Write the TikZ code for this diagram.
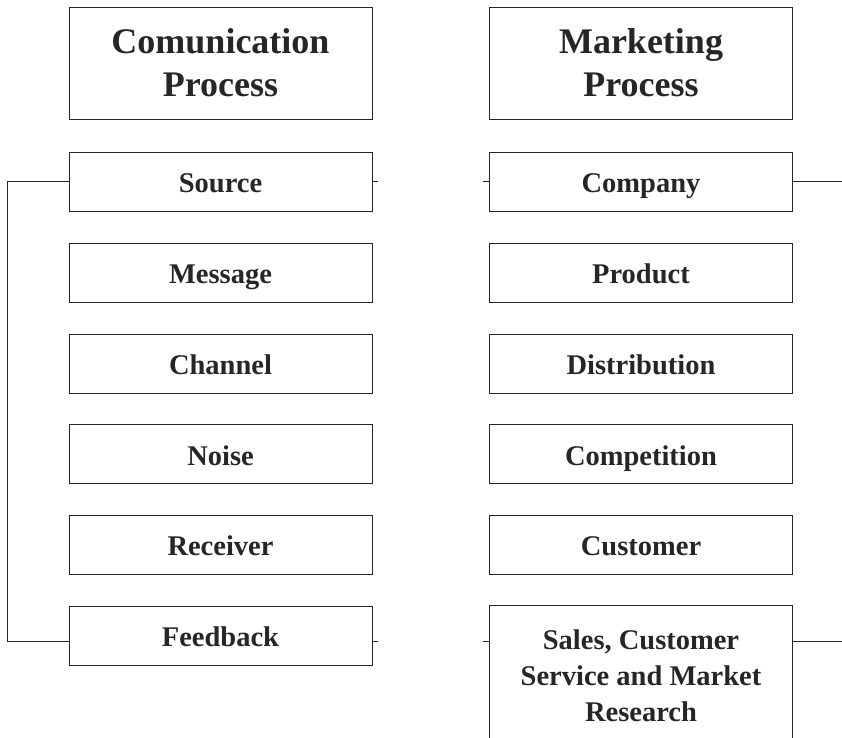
\documentclass[tikz,border=0pt]{standalone}
\usepackage{fontspec}
\setmainfont{Liberation Serif}

\begin{document}
\begin{tikzpicture}[
  x = 1pt,
  y = -1pt,
  head/.style = {
    shape = rectangle,
    draw,
    minimum width = 303pt,
    minimum height = 112pt,
    inner sep = 0pt,
    align = center,
    font = \fontsize{36}{43}\selectfont\bfseries,
  },
  stage/.style = {
    shape = rectangle,
    draw,
    minimum width = 303pt,
    minimum height = 59pt,
    inner sep = 0pt,
    text height = 26pt,
    text depth = 4pt,
    font = \fontsize{28.5}{36}\selectfont\bfseries,
  },
  bigstage/.style = {
    shape = rectangle,
    draw,
    minimum width = 303pt,
    minimum height = 142pt,
    inner sep = 0pt,
    align = center,
    font = \fontsize{28.5}{36}\selectfont\bfseries,
  },
  every path/.style = {
    line width = 0.8pt,
    color = black!85
  }
]
  \useasboundingbox (0, 0) rectangle (842, 737);

  \draw node[head] (comm) at (220.5, 63) {Comunication\\Process};
  \draw node[head] (mark) at (641, 63) {Marketing\\Process};

  \draw node[stage] (source)   at (220.5, 181.5) {Source};
  \draw node[stage] (message)  at (220.5, 272.5) {Message};
  \draw node[stage] (channel)  at (220.5, 363.5) {Channel};
  \draw node[stage] (noise)    at (220.5, 454) {Noise};
  \draw node[stage] (receiver) at (220.5, 544.5) {Receiver};
  \draw node[stage] (feedback) at (220.5, 635.5) {Feedback};

  \draw node[stage] (company)  at (641, 181.5) {Company};
  \draw node[stage] (product)  at (641, 272.5) {Product};
  \draw node[stage] (distrib)  at (641, 363.5) {Distribution};
  \draw node[stage] (compet)   at (641, 454) {Competition};
  \draw node[stage] (customer) at (641, 544.5) {Customer};
  \draw node[bigstage] (sales) at (641, 676)
    {Sales, Customer\\Service and Market\\Research};

  \coordinate (backrow) at (0, 641);
  \coordinate (rtop) at (842, 181.5);
  \coordinate (rbot) at (842, 641);

  \draw (source.west) -- ++(-61, 0) |- (feedback.west |- backrow);
  \draw (source.east) -- ++(6, 0);
  \draw (feedback.east |- backrow) -- ++(6, 0);
  \draw (company.west) -- ++(-6, 0);
  \draw (sales.west |- backrow) -- ++(-6, 0);
  \draw (company.east) -- (rtop);
  \draw (sales.east |- backrow) -- (rbot);
\end{tikzpicture}
\end{document}
